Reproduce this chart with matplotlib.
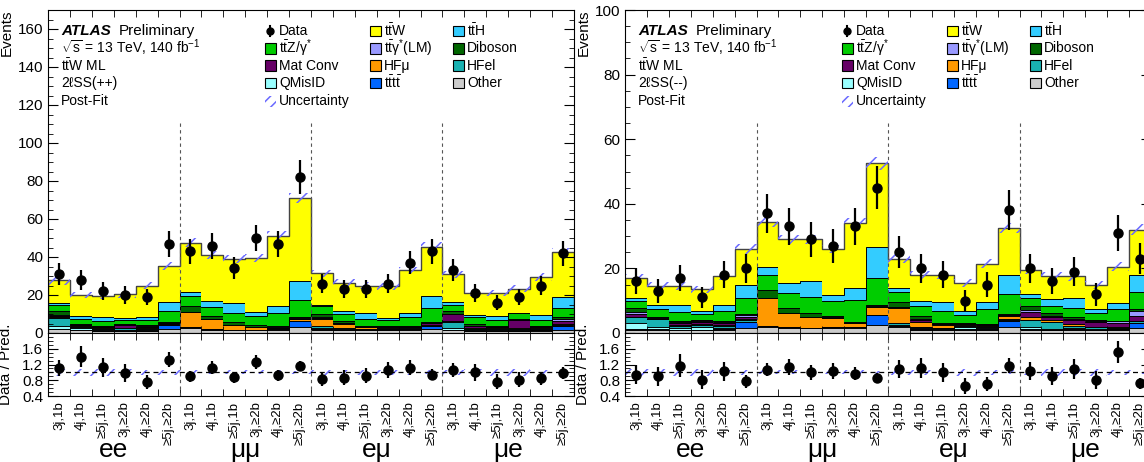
import matplotlib
matplotlib.use("Agg")
import matplotlib.pyplot as plt
import numpy as np
from matplotlib.patches import Rectangle
from matplotlib.ticker import MultipleLocator, FixedLocator, NullFormatter

plt.rcParams['font.family'] = ['Liberation Sans', 'DejaVu Sans']
plt.rcParams['mathtext.fontset'] = 'custom'
plt.rcParams['mathtext.rm'] = 'Liberation Sans'
plt.rcParams['mathtext.it'] = 'Liberation Sans:italic'
plt.rcParams['mathtext.bf'] = 'Liberation Sans:bold'
plt.rcParams['hatch.linewidth'] = 1.1

# bins: 6 jet/b-tag regions x 4 flavour channels
regions = ["3j,1b", "4j,1b", "≥5j,1b", "3j,≥2b", "4j,≥2b", "≥5j,≥2b"]
channels = ["ee", "μμ", "eμ", "μe"]

# samples, drawn bottom -> top
samples = ["Other", "tttt", "QMisID", "HFel", "HFmu", "MatConv",
           "ttgamma", "Diboson", "ttZ", "ttH", "ttW"]
colors = {"Other": "#cccccc", "tttt": "#0066ff", "QMisID": "#99ffff",
          "HFel": "#19b2b2", "HFmu": "#ff9900", "MatConv": "#660066",
          "ttgamma": "#9999ff", "Diboson": "#006600", "ttZ": "#00cc00",
          "ttH": "#33ccff", "ttW": "#ffff00"}

# ---- 2lSS(++) post-fit yields ----
pp_other   = [2.0, 1.5, 1.0, 1.0, 1.0, 2.0, 2.8, 1.6, 1.4, 1.4, 1.4, 3.2, 1.5, 1.5, 1.4, 1.4, 1.4, 2.0, 1.5, 1.0, 1.0, 1.0, 1.0, 1.8]
pp_tttt    = [0.2, 0.2, 0.2, 0.2, 0.3, 2.0, 0.2, 0.3, 0.3, 0.4, 0.6, 3.2, 0.4, 0.3, 0.3, 0.3, 0.5, 1.5, 0.3, 0.2, 0.2, 0.2, 0.4, 2.0]
pp_qmisid  = [1.3, 0.8, 0.5, 0.6, 0.4, 0.2, 0.0, 0.0, 0.0, 0.0, 0.0, 0.0, 0.5, 0.2, 0.2, 0.2, 0.2, 0.1, 0.8, 0.3, 0.3, 0.3, 0.3, 0.1]
pp_hfel    = [4.5, 0.8, 0.6, 0.6, 0.5, 0.3, 0.0, 0.0, 0.0, 0.0, 0.0, 0.0, 1.5, 0.6, 0.3, 0.3, 0.3, 0.3, 3.0, 0.8, 0.6, 0.6, 0.5, 0.3]
pp_hfmu    = [0.2, 0.2, 0.3, 0.2, 0.3, 0.3, 8.0, 5.5, 2.5, 1.2, 0.8, 1.0, 3.5, 2.2, 0.8, 0.6, 0.6, 0.5, 0.9, 0.5, 0.3, 0.5, 0.4, 0.3]
pp_matconv = [1.0, 0.5, 0.6, 1.6, 0.8, 0.4, 0.0, 0.0, 0.0, 0.0, 0.0, 0.0, 0.5, 0.4, 0.3, 0.5, 0.3, 0.8, 3.3, 0.8, 0.8, 4.3, 0.8, 2.0]
pp_ttgamma = [0.2, 0.2, 0.2, 0.2, 0.2, 0.2, 0.2, 0.2, 0.2, 0.2, 0.2, 0.3, 0.4, 0.3, 0.2, 0.2, 0.2, 0.2, 0.2, 0.2, 0.2, 0.2, 0.2, 1.0]
pp_diboson = [2.4, 0.6, 0.5, 0.6, 0.7, 0.4, 2.9, 1.6, 1.2, 1.0, 0.5, 0.6, 1.7, 1.0, 0.4, 0.4, 0.4, 0.2, 1.8, 1.0, 0.5, 0.5, 0.3, 0.8]
pp_ttz     = [2.7, 2.6, 2.6, 1.9, 2.7, 5.7, 5.3, 4.4, 4.8, 5.0, 6.9, 9.2, 4.0, 3.5, 3.5, 3.0, 4.4, 7.6, 3.0, 3.5, 3.0, 2.7, 3.2, 4.7]
pp_tth     = [1.2, 1.8, 1.8, 1.1, 1.4, 4.7, 2.3, 3.0, 5.3, 1.8, 3.7, 9.7, 0.8, 1.5, 3.2, 1.1, 2.3, 6.2, 1.4, 1.4, 2.3, 0.3, 2.4, 5.9]
pp_ttw     = [12.0, 10.8, 11.2, 12.3, 16.7, 19.3, 25.8, 24.4, 23.3, 28.5, 36.9, 43.8, 16.7, 15.0, 14.4, 16.6, 22.4, 26.1, 14.8, 11.3, 11.8, 12.8, 20.0, 23.6]
pp_unc     = [0.08, 0.08, 0.08, 0.08, 0.07, 0.06, 0.05, 0.05, 0.05, 0.05, 0.05, 0.04, 0.06, 0.07, 0.07, 0.07, 0.06, 0.05, 0.06, 0.08, 0.08, 0.08, 0.07, 0.05]
pp_data    = [31, 28, 22, 20, 19, 47, 43, 46, 34, 50, 47, 82, 26, 23, 23, 26, 37, 43, 33, 21, 16, 19, 25, 42]
pp_err     = [5.6, 5.3, 4.7, 4.5, 4.4, 6.9, 6.6, 6.8, 5.8, 7.1, 6.9, 9.1, 5.1, 4.8, 4.8, 5.1, 6.1, 6.6, 5.7, 4.6, 4.0, 4.4, 5.0, 6.5]

# ---- 2lSS(--) post-fit yields ----
mm_other   = [1.0, 1.0, 0.8, 0.8, 1.0, 1.5, 2.0, 1.5, 1.5, 1.5, 1.5, 2.6, 2.0, 1.0, 1.0, 1.0, 1.0, 1.8, 1.0, 0.8, 1.0, 0.8, 0.8, 1.6]
mm_tttt    = [0.3, 0.2, 0.2, 0.2, 0.3, 1.8, 0.1, 0.3, 0.2, 0.3, 0.5, 3.0, 0.2, 0.3, 0.2, 0.2, 0.3, 2.0, 0.2, 0.2, 0.2, 0.2, 0.3, 1.5]
mm_qmisid  = [1.8, 0.6, 0.5, 1.0, 0.4, 0.2, 0.0, 0.0, 0.0, 0.0, 0.0, 0.0, 0.3, 0.2, 0.2, 0.8, 0.2, 0.1, 0.6, 0.2, 0.3, 0.3, 0.2, 0.1]
mm_hfel    = [1.8, 2.4, 0.8, 0.6, 0.6, 0.6, 0.0, 0.0, 0.0, 0.0, 0.0, 0.0, 0.6, 0.3, 0.3, 0.3, 0.3, 0.4, 2.2, 2.1, 0.8, 0.5, 0.3, 0.4]
mm_hfmu    = [0.2, 0.1, 0.2, 0.2, 0.2, 0.2, 8.7, 4.4, 3.3, 2.9, 1.2, 2.4, 4.7, 1.7, 0.8, 0.3, 0.4, 1.1, 0.9, 0.8, 0.4, 0.2, 0.2, 0.2]
mm_matconv = [0.8, 0.1, 0.6, 0.5, 0.5, 0.8, 0.0, 0.0, 0.0, 0.0, 0.0, 0.0, 0.1, 0.5, 0.2, 0.2, 0.3, 0.2, 1.6, 1.0, 1.2, 1.5, 1.4, 1.6]
mm_ttgamma = [0.5, 0.2, 0.3, 0.4, 0.5, 0.4, 0.0, 0.1, 0.1, 0.1, 0.0, 0.3, 0.1, 0.2, 0.2, 0.1, 0.2, 0.1, 0.6, 0.3, 0.4, 0.3, 0.4, 1.5]
mm_diboson = [1.4, 0.3, 0.4, 0.3, 0.3, 0.4, 2.4, 1.5, 1.0, 0.4, 0.1, 0.4, 1.5, 1.2, 0.2, 0.2, 0.1, 0.2, 1.4, 0.7, 0.6, 0.3, 0.2, 0.4]
mm_ttz     = [2.0, 2.4, 2.8, 1.9, 3.1, 5.0, 4.9, 4.6, 5.0, 4.6, 6.8, 8.3, 3.1, 2.9, 3.6, 2.6, 4.5, 6.2, 2.4, 2.4, 2.8, 2.1, 3.5, 5.5]
mm_tth     = [1.1, 1.4, 2.2, 1.0, 1.8, 4.1, 2.2, 3.0, 5.1, 2.1, 3.9, 9.6, 1.3, 1.7, 3.0, 1.0, 2.2, 6.0, 1.2, 1.9, 3.1, 1.3, 2.0, 5.3]
mm_ttw     = [6.1, 5.8, 5.7, 6.6, 8.8, 11.0, 14.2, 13.6, 12.8, 14.1, 20.0, 25.9, 9.1, 8.0, 8.3, 8.8, 12.0, 14.4, 7.4, 7.1, 6.7, 7.3, 11.2, 13.9]
mm_unc     = [0.08, 0.08, 0.08, 0.08, 0.07, 0.06, 0.05, 0.05, 0.05, 0.05, 0.05, 0.04, 0.06, 0.07, 0.07, 0.08, 0.07, 0.05, 0.07, 0.08, 0.08, 0.08, 0.07, 0.05]
mm_data    = [16, 13, 17, 11, 18, 20, 37, 33, 29, 27, 33, 45, 25, 20, 18, 10, 15, 38, 20, 16, 19, 12, 31, 23]
mm_err     = [4.0, 3.6, 4.1, 3.3, 4.2, 4.5, 6.1, 5.7, 5.4, 5.2, 5.7, 6.7, 5.0, 4.5, 4.2, 3.2, 3.9, 6.2, 4.5, 4.0, 4.4, 3.5, 5.6, 4.8]

pp_stack = [pp_other, pp_tttt, pp_qmisid, pp_hfel, pp_hfmu, pp_matconv,
            pp_ttgamma, pp_diboson, pp_ttz, pp_tth, pp_ttw]
mm_stack = [mm_other, mm_tttt, mm_qmisid, mm_hfel, mm_hfmu, mm_matconv,
            mm_ttgamma, mm_diboson, mm_ttz, mm_tth, mm_ttw]

legend_rows = [
    [("Data", "data"), (r"$\mathrm{t\bar{t}W}$", "ttW"), (r"$\mathrm{t\bar{t}H}$", "ttH")],
    [(r"$\mathrm{t\bar{t}Z/γ^{*}}$", "ttZ"), (r"$\mathrm{t\bar{t}γ^{*}(LM)}$", "ttgamma"), ("Diboson", "Diboson")],
    [("Mat Conv", "MatConv"), ("HFμ", "HFmu"), ("HFel", "HFel")],
    [("QMisID", "QMisID"), (r"$\mathrm{t\bar{t}t\bar{t}}$", "tttt"), ("Other", "Other")],
    [("Uncertainty", "unc")],
]

UNC_COLOR = "#6a6aff"

n_bins = len(regions) * len(channels)
edges = np.arange(n_bins + 1)
centers = edges[:-1] + 0.5

W, H = 1144, 462
fig = plt.figure(figsize=(W / 100, H / 100), dpi=100)


def style_axis(ax):
    ax.tick_params(which='both', direction='in', top=True, right=True)
    ax.tick_params(which='major', length=7, labelsize=11)
    ax.tick_params(which='minor', length=3.5)


def draw_panel(x0, stack, data, err, unc, ymax, yticks, sign):
    ax = fig.add_axes([x0 / W, 1 - 333 / H, 526 / W, 323 / H])
    axr = fig.add_axes([x0 / W, 1 - 396 / H, 526 / W, 63 / H], sharex=ax)

    # stacked histograms
    bottom = np.zeros(n_bins)
    for name, vals in zip(samples, stack):
        top = bottom + np.array(vals)
        ax.stairs(top, edges, baseline=bottom, fill=True, color=colors[name], lw=0)
        ax.stairs(top, edges, color='black', lw=0.7)
        bottom = top
    total = bottom
    ax.stairs(total, edges, color='#444444', lw=1.0)

    # uncertainty band
    unc = np.array(unc)
    ax.stairs(total * (1 + unc), edges, baseline=total * (1 - unc), fill=True,
              facecolor='none', edgecolor=UNC_COLOR, hatch='//', lw=0)

    ax.errorbar(centers, data, yerr=err, fmt='o', color='black', ms=6.5,
                elinewidth=1.6, capsize=0)

    for k in range(1, len(channels)):
        ax.axvline(k * len(regions), ymax=0.65, color='#555555', lw=0.8, ls=(0, (3, 3)))
        axr.axvline(k * len(regions), color='#555555', lw=0.8, ls=(0, (3, 3)))

    ax.set_xlim(0, n_bins)
    ax.set_ylim(0, ymax)
    ax.set_yticks(yticks)
    ax.yaxis.set_minor_locator(MultipleLocator(5))
    style_axis(ax)
    ax.set_ylabel("Events", loc='top', fontsize=11)
    ax.yaxis.set_label_coords(-0.066, 1.0)

    # labels block
    tx = 0.025
    rows_y = [0.935, 0.882, 0.827, 0.774, 0.718]
    ax.text(tx, rows_y[0], "ATLAS", transform=ax.transAxes, fontsize=11,
            fontweight='bold', fontstyle='italic', va='center')
    ax.text(tx + 0.109, rows_y[0], "Preliminary", transform=ax.transAxes,
            fontsize=11, va='center')
    ax.text(tx, rows_y[1], r"$\sqrt{\mathrm{s}}$ = 13 TeV, 140 fb$^{-1}$",
            transform=ax.transAxes, fontsize=10, va='center')
    ax.text(tx, rows_y[2], r"$\mathrm{t\bar{t}W}$ ML", transform=ax.transAxes,
            fontsize=10, va='center')
    ax.text(tx, rows_y[3], "2ℓSS(" + sign + ")", transform=ax.transAxes,
            fontsize=10, va='center')
    ax.text(tx, rows_y[4], "Post-Fit", transform=ax.transAxes, fontsize=10,
            va='center')

    # legend, drawn by hand in three columns
    col_box = [0.412, 0.612, 0.770]
    bw, bh = 0.021, 0.034
    for r, row in enumerate(legend_rows):
        for c, (label, key) in enumerate(row):
            y = rows_y[r]
            bx = col_box[c]
            if key == "data":
                ax.plot([bx + bw / 2, bx + bw / 2], [y - bh / 2, y + bh / 2],
                        color='black', lw=1.5, transform=ax.transAxes)
                ax.plot(bx + bw / 2, y, 'o', color='black', ms=5,
                        transform=ax.transAxes)
            elif key == "unc":
                ax.add_patch(Rectangle((bx, y - bh / 2), bw, bh, transform=ax.transAxes,
                                       facecolor='none', edgecolor=UNC_COLOR,
                                       hatch='///', lw=0))
            else:
                ax.add_patch(Rectangle((bx, y - bh / 2), bw, bh, transform=ax.transAxes,
                                       facecolor=colors[key], edgecolor='black', lw=0.8))
            ax.text(bx + bw + 0.006, y, label, transform=ax.transAxes,
                    fontsize=10, va='center')

    plt.setp(ax.get_xticklabels(), visible=False)

    # ratio panel
    data = np.array(data)
    ratio = data / total
    ratio_err = np.array(err) / total
    axr.stairs(1 + unc, edges, baseline=1 - unc, fill=True, facecolor='none',
               edgecolor=UNC_COLOR, hatch='//', lw=0)
    axr.axhline(1.0, color='black', lw=0.9, ls=(0, (4, 3)))
    axr.errorbar(centers, ratio, yerr=ratio_err, fmt='o', color='black',
                 ms=6.5, elinewidth=1.6, capsize=0)
    axr.set_ylim(0.4, 2.0)
    axr.set_yticks([0.4, 0.8, 1.2, 1.6])
    axr.yaxis.set_minor_locator(MultipleLocator(0.1))
    style_axis(axr)
    axr.set_ylabel("Data / Pred.", fontsize=11)
    axr.yaxis.set_label_coords(-0.066, 0.5)

    # bin labels at centres, ticks at bin edges
    axr.xaxis.set_major_locator(FixedLocator(centers))
    axr.set_xticklabels(regions * len(channels), rotation=90, fontsize=9.5)
    axr.xaxis.set_minor_locator(FixedLocator(edges))
    ax.xaxis.set_minor_locator(FixedLocator(edges))
    axr.tick_params(axis='x', which='major', length=0, pad=4)
    ax.tick_params(axis='x', which='major', length=0)
    axr.tick_params(axis='x', which='minor', length=5)
    ax.tick_params(axis='x', which='minor', length=5)
    axr.xaxis.set_minor_formatter(NullFormatter())

    for k, ch in enumerate(channels):
        axr.text((k + 0.5) * len(regions), -0.86, ch, transform=axr.get_xaxis_transform(),
                 ha='center', va='center', fontsize=19)


draw_panel(48, pp_stack, pp_data, pp_err, pp_unc, 170, np.arange(0, 161, 20), "++")
draw_panel(625, mm_stack, mm_data, mm_err, mm_unc, 100, np.arange(0, 101, 20), "--")

fig.savefig("out.png", dpi=100)
